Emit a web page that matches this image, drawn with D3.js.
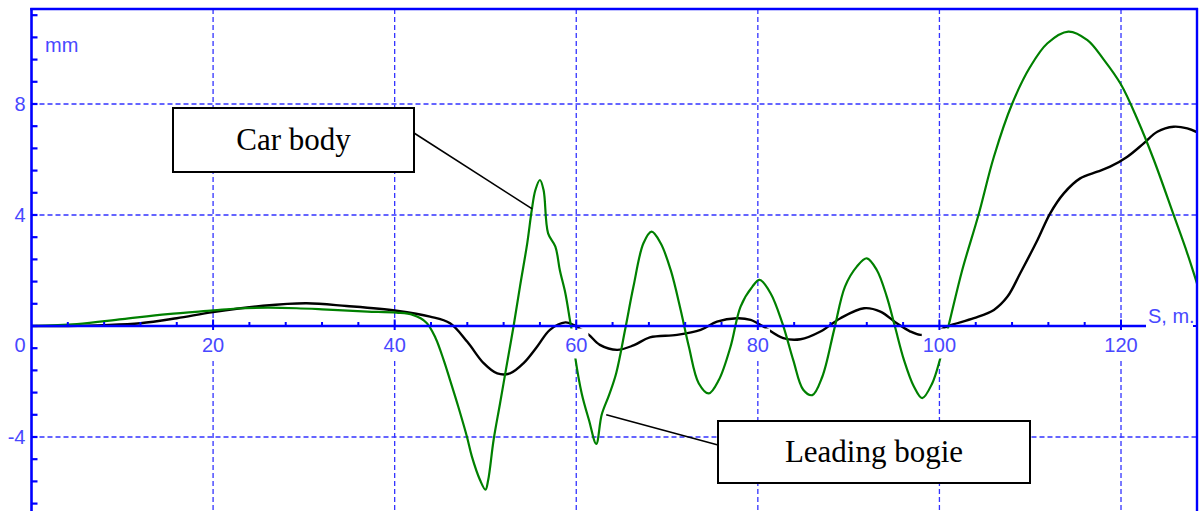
<!DOCTYPE html>
<html>
<head>
<meta charset="utf-8">
<script src="https://cdn.jsdelivr.net/npm/d3@7"></script>
<style>
  html, body { margin: 0; padding: 0; background: #fff; }
  svg { display: block; }
</style>
</head>
<body>
<div id="chart"></div>
<script>
// ---------------- DATA ----------------
const xTickValues = [20, 40, 60, 80, 100, 120];
const yTickValues = [8, 4, 0, -4];
const yGridValues = [8, 4, -4];
const xAxisTitle = "S, m.";
const yAxisTitle = "mm";

// Leading bogie (green)
const bogieS = [0, 5, 10, 15, 20, 22.6, 26, 29.2, 32, 34.3, 37, 40.2, 42, 43.5, 44.5, 45.4, 46.1, 47.0, 47.96, 48.5, 49.4, 50.0, 50.3, 50.9, 51.6, 52.4, 53.1, 53.8, 54.6, 55.1, 55.5, 56.0, 56.4, 56.9, 57.7, 58.2, 58.8, 59.3, 59.6, 59.9, 60.6, 61.4, 62.2, 62.8, 63.6, 64.4, 65.4, 66.3, 67.4, 68.3, 69.3, 70.4, 71.5, 72.4, 73.5, 74.6, 75.7, 77.0, 78.1, 79.4, 80.2, 81.4, 82.7, 83.9, 85.0, 86.0, 87.1, 88.4, 89.6, 90.9, 92.0, 93.1, 94.2, 95.1, 96.1, 97.2, 98.1, 99.2, 100.1, 101.0, 102.5, 104.3, 106.0, 108.0, 110.0, 111.9, 114.2, 116.3, 118.1, 120.0, 121.8, 123.6, 125.8, 127.3, 128.4];
const bogieV = [0, 0.07, 0.25, 0.43, 0.56, 0.63, 0.66, 0.64, 0.6, 0.56, 0.52, 0.48, 0.40, 0.12, -0.43, -1.23, -1.95, -2.9, -3.99, -4.7, -5.55, -5.9, -5.55, -4.1, -2.8, -1.3, 0, 1.42, 2.98, 4.18, 4.9, 5.26, 4.9, 3.34, 2.86, 2.0, 1.18, 0.22, -0.35, -1.16, -2.43, -3.39, -4.25, -3.2, -2.5, -1.7, -0.1, 1.42, 2.98, 3.40, 2.98, 2.02, 0.58, -0.74, -2.07, -2.43, -1.95, -0.74, 0.70, 1.42, 1.66, 1.18, 0.10, -1.23, -2.3, -2.49, -1.83, -0.14, 1.42, 2.14, 2.44, 2.02, 1.06, -0.02, -1.23, -2.19, -2.6, -2.07, -1.16, 0, 2.0, 4.0, 6.1, 8.0, 9.34, 10.19, 10.61, 10.3, 9.6, 8.7, 7.45, 6.0, 4.0, 2.62, 1.5];

// Car body (black)
const bodyS = [0, 4, 8, 12, 16, 20, 25.5, 30.3, 34.7, 40.2, 43.9, 46.1, 48.0, 49.8, 51.3, 52.7, 54.2, 55.7, 57.1, 58.8, 59.7, 60.6, 61.4, 62.6, 64.5, 66.3, 68.1, 71.1, 73.7, 75.5, 77.7, 79.2, 80.6, 82.8, 84.7, 86.9, 89.1, 91.7, 93.5, 95.3, 96.8, 97.9, 99.5, 100.8, 103.8, 106.0, 107.5, 108.9, 110.8, 112.2, 113.7, 115.5, 117.4, 118.8, 120.7, 122.5, 124.0, 125.8, 127.3, 128.4];
const bodyV = [0, 0, 0.03, 0.1, 0.28, 0.5, 0.73, 0.82, 0.72, 0.55, 0.34, 0.1, -0.57, -1.34, -1.71, -1.71, -1.34, -0.74, -0.14, 0.13, 0.04, -0.14, -0.32, -0.68, -0.86, -0.7, -0.41, -0.32, -0.14, 0.16, 0.28, 0.22, -0.02, -0.44, -0.48, -0.2, 0.28, 0.64, 0.52, 0.1, -0.2, -0.32, -0.25, -0.02, 0.28, 0.58, 1.06, 1.9, 3.1, 4.06, 4.78, 5.32, 5.56, 5.74, 6.1, 6.58, 7.0, 7.18, 7.12, 6.98];

// Callout annotations (text + anchor in data units)
const calloutTexts = ["Car body", "Leading bogie"];
const calloutAnchorS = [55.15, 63.3];
const calloutAnchorV = [4.22, -3.2];

// ---------------- LAYOUT ----------------
const W = 1203, H = 511;
const plotLeft = 31.5, plotRight = 1197, plotTop = 9, plotBottom = 511;
const axisBlue = "#0000ff";
const gridBlue = "#3333ff";
const labelBlue = "#4848ff";

const x = d3.scaleLinear().domain([0, 128.37]).range([plotLeft, plotRight]);
const y = d3.scaleLinear().domain([-6.667, 11.423]).range([plotBottom, plotTop]);

const svg = d3.select("#chart").append("svg")
  .attr("width", W).attr("height", H)
  .attr("viewBox", `0 0 ${W} ${H}`);

svg.append("rect").attr("width", W).attr("height", H).attr("fill", "#fff");

svg.append("clipPath").attr("id", "plotclip")
  .append("rect").attr("x", plotLeft).attr("y", plotTop)
  .attr("width", plotRight - plotLeft).attr("height", plotBottom - plotTop);

// Gridlines
const grid = svg.append("g").attr("stroke", gridBlue).attr("stroke-width", 1.3)
  .attr("stroke-dasharray", "5,3");
grid.selectAll("line.v").data(xTickValues).join("line")
  .attr("class", "v")
  .attr("x1", d => x(d)).attr("x2", d => x(d))
  .attr("y1", plotTop).attr("y2", plotBottom);
grid.selectAll("line.h").data(yGridValues).join("line")
  .attr("class", "h")
  .attr("x1", plotLeft).attr("x2", plotRight)
  .attr("y1", d => y(d)).attr("y2", d => y(d));

// Curves
const line = d3.line().x(d => x(d[0])).y(d => y(d[1])).curve(d3.curveCatmullRom.alpha(0.5));
const curves = svg.append("g").attr("clip-path", "url(#plotclip)");
curves.append("path")
  .datum(bodyS.map((s, i) => [s, bodyV[i]]))
  .attr("d", line).attr("fill", "none").attr("stroke", "#000").attr("stroke-width", 2.4);
curves.append("path")
  .datum(bogieS.map((s, i) => [s, bogieV[i]]))
  .attr("d", line).attr("fill", "none").attr("stroke", "#008000").attr("stroke-width", 2.2);

// X tick labels with white backgrounds
const fontSans = "'Liberation Sans', Arial, sans-serif";
const xLab = svg.append("g");
xTickValues.forEach(v => {
  const g = xLab.append("g");
  const bg = g.append("rect").attr("fill", "#fff");
  const t = g.append("text")
    .attr("x", x(v)).attr("y", y(0) + 26)
    .attr("text-anchor", "middle")
    .attr("font-family", fontSans).attr("font-size", 20)
    .attr("fill", labelBlue).text(v);
  const bb = t.node().getBBox();
  bg.attr("x", bb.x - 1).attr("y", y(0) + 2.5).attr("width", bb.width + 2).attr("height", 30);
});

// X axis line (zero line)
const xAxisEnd = 1146;
svg.append("line")
  .attr("x1", plotLeft).attr("x2", xAxisEnd)
  .attr("y1", y(0)).attr("y2", y(0))
  .attr("stroke", axisBlue).attr("stroke-width", 2.4);
// minor x ticks
const xMinor = d3.range(4, 124, 4).filter(v => v % 20 !== 0);
svg.append("g").selectAll("line").data(xMinor).join("line")
  .attr("x1", d => x(d)).attr("x2", d => x(d))
  .attr("y1", y(0) - 4).attr("y2", y(0))
  .attr("stroke", axisBlue).attr("stroke-width", 2);
svg.append("g").selectAll("line").data(xTickValues).join("line")
  .attr("x1", d => x(d)).attr("x2", d => x(d))
  .attr("y1", y(0) - 6.5).attr("y2", y(0) + 4)
  .attr("stroke", axisBlue).attr("stroke-width", 2);

svg.append("text")
  .attr("x", 1148).attr("y", y(0) - 3)
  .attr("font-family", fontSans).attr("font-size", 20)
  .attr("fill", labelBlue).text(xAxisTitle);

// Frame: left axis, top, right
svg.append("line").attr("x1", plotLeft).attr("x2", plotLeft)
  .attr("y1", plotTop - 1).attr("y2", H)
  .attr("stroke", axisBlue).attr("stroke-width", 2.6);
svg.append("line").attr("x1", plotLeft - 1.3).attr("x2", plotRight + 1)
  .attr("y1", plotTop).attr("y2", plotTop)
  .attr("stroke", axisBlue).attr("stroke-width", 2.4);
svg.append("line").attr("x1", plotRight).attr("x2", plotRight)
  .attr("y1", plotTop - 1).attr("y2", H)
  .attr("stroke", axisBlue).attr("stroke-width", 2.4);
svg.append("line").attr("x1", plotRight - 4).attr("x2", plotRight)
  .attr("y1", y(0)).attr("y2", y(0))
  .attr("stroke", axisBlue).attr("stroke-width", 2);

// Y minor ticks every 0.8
const yMinor = d3.range(-8, 15).map(k => +(k * 0.8).toFixed(2));
svg.append("g").selectAll("line").data(yMinor).join("line")
  .attr("x1", plotLeft).attr("x2", plotLeft + 6)
  .attr("y1", d => y(d)).attr("y2", d => y(d))
  .attr("stroke", axisBlue).attr("stroke-width", 2.2);

// Y labels
svg.append("g").selectAll("text").data(yTickValues).join("text")
  .attr("x", 25.5)
  .attr("y", d => d === 0 ? y(0) + 26 : y(d) + 7)
  .attr("text-anchor", "end")
  .attr("font-family", fontSans).attr("font-size", 20)
  .attr("fill", labelBlue)
  .text(d => String(d));

svg.append("text")
  .attr("x", 45).attr("y", 52)
  .attr("font-family", fontSans).attr("font-size", 20)
  .attr("fill", labelBlue).text(yAxisTitle);

// Callouts
const boxes = [
  { x: 173, y: 108, w: 241, h: 64, lx: 414, ly: 133 },
  { x: 718, y: 421, w: 312, h: 62, lx: 718, ly: 445 }
];
const ann = svg.append("g");
boxes.forEach((b, i) => {
  ann.append("line")
    .attr("x1", b.lx).attr("y1", b.ly)
    .attr("x2", x(calloutAnchorS[i])).attr("y2", y(calloutAnchorV[i]))
    .attr("stroke", "#000").attr("stroke-width", 1.6);
  ann.append("rect")
    .attr("x", b.x).attr("y", b.y).attr("width", b.w).attr("height", b.h)
    .attr("fill", "#fff").attr("stroke", "#000").attr("stroke-width", 2);
  ann.append("text")
    .attr("x", b.x + b.w / 2).attr("y", b.y + b.h / 2 + 10)
    .attr("text-anchor", "middle")
    .attr("font-family", "'Liberation Serif', 'Times New Roman', serif")
    .attr("font-size", 31).attr("fill", "#000")
    .text(calloutTexts[i]);
});
</script>
</body>
</html>
